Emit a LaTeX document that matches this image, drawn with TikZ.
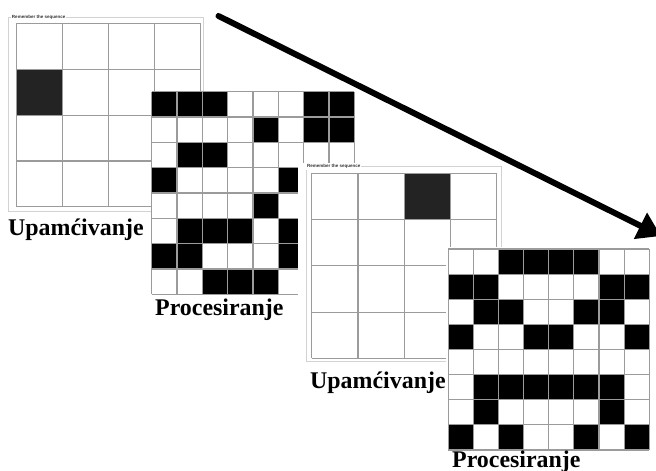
\documentclass[tikz,border=0pt]{standalone}
\usepackage{fontspec}
\setmainfont{Liberation Serif}
\setsansfont{Liberation Sans}
\usetikzlibrary{arrows.meta,positioning}

\definecolor{gridgray}{RGB}{155,155,155}
\definecolor{framegray}{RGB}{210,210,210}
\definecolor{memcell}{RGB}{35,35,35}

\begin{document}
\begin{tikzpicture}[x=1pt,y=-1pt,
  lbl/.style={font=\fontsize{23.9}{24}\selectfont\bfseries,anchor=base west,inner sep=0pt},
  tinytitle/.style={font=\sffamily\fontsize{4.5}{5}\selectfont\bfseries,text=black!80,fill=white,anchor=west,inner sep=0.8pt},
  gridline/.style={draw=gridgray,line width=1.1pt},
  frameline/.style={draw=framegray,line width=0.7pt},
  sheet/.style={fill=white},
  bigarrow/.style={line width=6pt,line cap=round,-{Triangle[length=23pt,width=28pt]}}
]
  \clip (0,0) rectangle (656,471);
  \fill[white] (0,0) rectangle (656,471);

  % first memory panel, 4x4
  \begin{scope}[shift={(16.7,23.3)}]
    \def\s{45.9}
    \draw[frameline] (-8.5,-6.3) rectangle (186.5,188.5);
    \fill[memcell] (0,\s) rectangle (\s,2*\s);
    \foreach \i in {0,...,4} {
      \draw[gridline] (\i*\s,0) -- (\i*\s,4*\s);
      \draw[gridline] (0,\i*\s) -- (4*\s,\i*\s);
    }
  \end{scope}
  \node[tinytitle] (title1) at (11,17) {Remember the sequence};

  % first processing panel, 8x8
  \begin{scope}[shift={(151.7,91.7)}]
    \def\s{25.33}
    \fill[sheet] (-1,-1) rectangle (8*\s+1,8*\s+1);
    \foreach \row [count=\r] in {{1,1,1,0,0,0,1,1},{0,0,0,0,1,0,1,1},{0,1,1,0,0,0,0,0},{1,0,0,0,0,1,0,0},
                                  {0,0,0,0,1,0,0,0},{0,1,1,1,0,1,0,0},{1,1,0,0,0,1,0,0},{0,0,1,1,1,0,0,0}} {
      \foreach \v [count=\k] in \row {
        \ifnum\v=1 \fill[black] ({(\k-1)*\s},{(\r-1)*\s}) rectangle ({\k*\s},{\r*\s}); \fi
      }
    }
    \foreach \i in {0,...,8} {
      \draw[gridline] (\i*\s,0) -- (\i*\s,8*\s);
      \draw[gridline] (0,\i*\s) -- (8*\s,\i*\s);
    }
  \end{scope}

  % second memory panel, 4x4
  \begin{scope}[shift={(311.7,173.3)}]
    \def\s{46.25}
    \fill[sheet] (-13.7,-10.3) rectangle (194,192);
    \draw[frameline] (-5.5,-6.6) rectangle (190,188.5);
    \fill[memcell] (2*\s,0) rectangle (3*\s,\s);
    \foreach \i in {0,...,4} {
      \draw[gridline] (\i*\s,0) -- (\i*\s,4*\s);
      \draw[gridline] (0,\i*\s) -- (4*\s,\i*\s);
    }
  \end{scope}
  \node[tinytitle] (title2) at (306,166.7) {Remember the sequence};

  % second processing panel, 8x8
  \begin{scope}[shift={(448.3,249)}]
    \def\s{25.12}
    \fill[sheet] (-2,-2) rectangle (8*\s+2,8*\s+2);
    \foreach \row [count=\r] in {{0,0,1,1,1,1,0,0},{1,1,0,0,0,0,1,1},{0,1,1,0,0,1,1,0},{1,0,0,1,1,0,0,1},
                                  {0,0,0,0,0,0,0,0},{0,1,1,1,1,1,1,0},{0,1,0,0,0,0,1,0},{1,0,1,0,0,1,0,1}} {
      \foreach \v [count=\k] in \row {
        \ifnum\v=1 \fill[black] ({(\k-1)*\s},{(\r-1)*\s}) rectangle ({\k*\s},{\r*\s}); \fi
      }
    }
    \foreach \i in {0,...,8} {
      \draw[gridline] (\i*\s,0) -- (\i*\s,8*\s);
      \draw[gridline] (0,\i*\s) -- (8*\s,\i*\s);
    }
  \end{scope}

  % labels
  \node[lbl] (upam1) at (8,235) {Upamćivanje};
  \node[lbl] (proc1) at (155,315) {Procesiranje};
  \node[lbl] (upam2) at (310,388) {Upamćivanje};
  \node[lbl] (proc2) at (452,467) {Procesiranje};

  % the long arrow
  \coordinate (arrowstart) at (218.5,16);
  \coordinate (arrowend) at (661,236);
  \draw[bigarrow] (arrowstart) -- (arrowend);
\end{tikzpicture}
\end{document}
